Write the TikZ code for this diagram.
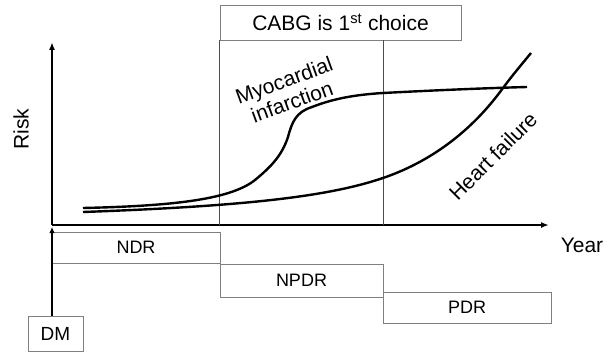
\documentclass[tikz,border=0pt]{standalone}
\usepackage{fontspec}
\setmainfont{Liberation Sans}
\usetikzlibrary{positioning,arrows.meta}

\begin{document}
\begin{tikzpicture}[
  x=1pt, y=-1pt,
  >={Latex[length=8pt,width=6pt]},
  font=\fontsize{21}{23}\selectfont,
  stage/.style ={rectangle, draw=black!50, line width=0.8pt, inner sep=0pt, font=\fontsize{18}{20}\selectfont},
  choice/.style={rectangle, draw=black!50, line width=0.8pt, inner sep=0pt},
  axis/.style  ={->, line width=2.2pt},
  risk/.style  ={line width=2.4pt},
  split/.style ={draw=black!70, line width=0.8pt},
  lbl/.style   ={align=center, inner sep=0pt}
]
\useasboundingbox (0,0) rectangle (612,353);

% ---- Axes ---------------------------------------------------------------------
\coordinate (o)    at (52,225);
\coordinate (ytip) at (52,42);
\coordinate (xtip) at (549,225);
\coordinate (dmtip) at (52,227);

\draw[axis] (o) -- (ytip);
\draw[axis] (o) -- (xtip);

\node[lbl, rotate=90] (risk) at (21,129) {Risk};
\node[lbl] (year) at (582,245) {Year};

% ---- Top box + splits ---------------------------------------------------------
\node[choice, minimum width=241pt, minimum height=35pt] (cabg) at (340.5,22.5) {CABG is 1\textsuperscript{st} choice};
\coordinate (s2) at (383,40);

\draw[split] (cabg.south west) -- (cabg.south west |- o);
\draw[split] (s2) -- (s2 |- o);

% ---- Stages of retinopathy ----------------------------------------------------
\node[stage, minimum width=168pt, minimum height=31pt] (ndr)  at (136,247.5) {NDR};
\node[stage, minimum width=163pt, minimum height=33pt] (npdr) at (301.5,280.5) {NPDR};
\node[stage, minimum width=168pt, minimum height=31pt] (pdr)  at (467,307.5) {PDR};
\node[stage, minimum width=55pt, minimum height=35pt, font=\fontsize{19}{21}\selectfont] (dm) at (55.5,333.5) {DM};

\draw[->, line width=2.2pt, >={Latex[length=6pt,width=5.5pt]}] (dm.north -| o) -- (dmtip);

% ---- Risk curves --------------------------------------------------------------
\coordinate (mi0) at (83,208);
\coordinate (mi1) at (527,87);
\coordinate (hf0) at (83,212);
\coordinate (hf1) at (531,53);

\draw[risk] (mi0) .. controls (170,206) and (230,200) .. (255,180)
  .. controls (272,166) and (282,155) .. (288,137)
  .. controls (292,122) and (296,112) .. (312,107)
  .. controls (330,100) and (350,95) .. (383,93)
  .. controls (440,90) and (490,88) .. (mi1);
\draw[risk] (hf0) .. controls (250,206) and (330,196) .. (383,178)
  .. controls (430,162) and (470,132) .. (500,92)
  .. controls (512,76) .. (hf1);

\node[lbl, rotate=20] (milbl) at (288,91) {Myocardial\\infarction};
\node[lbl, rotate=45] (hflbl) at (493,156) {Heart failure};

\end{tikzpicture}
\end{document}
